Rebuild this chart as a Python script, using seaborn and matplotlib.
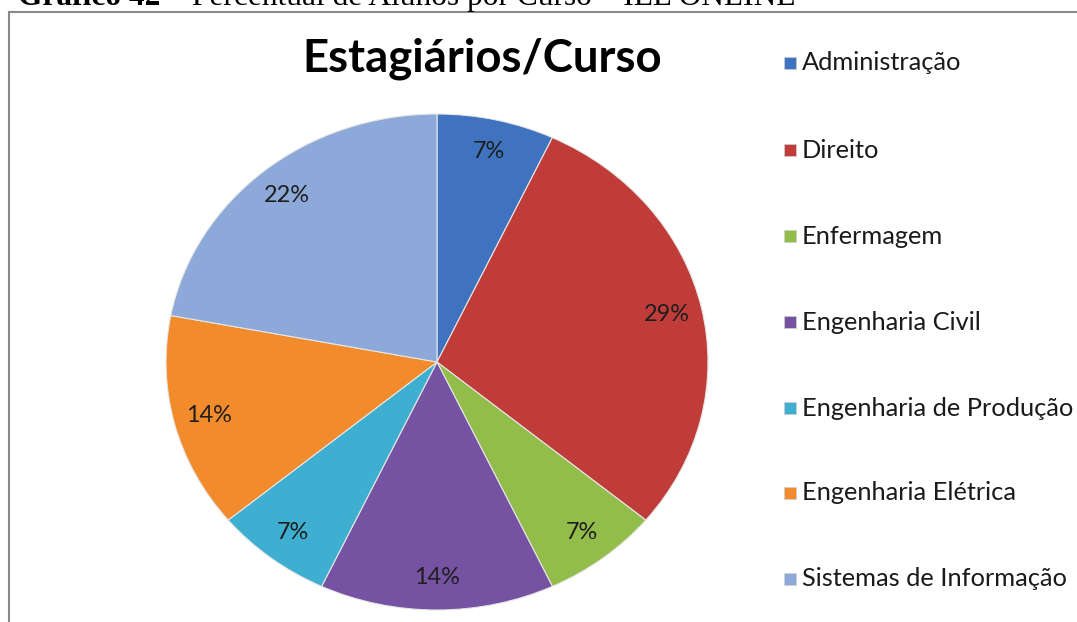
import matplotlib
matplotlib.use("Agg")
import matplotlib.pyplot as plt
import seaborn as sns
from matplotlib.patches import Rectangle

# ---- data ----
categorias = ["Administração", "Direito", "Enfermagem", "Engenharia Civil",
              "Engenharia de Produção", "Engenharia Elétrica", "Sistemas de Informação"]
percentuais = [7, 29, 7, 14, 7, 14, 22]
cores = ["#3F73C0", "#C03C39", "#93BD4A", "#7653A2", "#3EAFD0", "#F28B2C", "#8CA9D9"]
titulo = "Estagiários/Curso"
legenda_doc_negrito = "Gráfico 42 –"
legenda_doc = " Percentual de Alunos por Curso – IEL ONLINE"

sns.set_theme(style="white")
plt.rcParams["font.family"] = ["Lato", "DejaVu Sans"]

W, H = 1077, 622
fig = plt.figure(figsize=(W / 100, H / 100), dpi=100)
fig.patch.set_facecolor("white")
renderer = fig.canvas.get_renderer()


def fit(t, target_px):
    bb = t.get_window_extent(renderer=renderer)
    t.set_fontsize(t.get_fontsize() * target_px / bb.width)


# ---- pie (elliptical) ----
cx, cy, rx, ry = 437, 362, 271, 248
m = 1.1
ax = fig.add_axes([(cx - m * rx) / W, (H - cy - m * ry) / H, 2 * m * rx / W, 2 * m * ry / H])
wedges, texts, autotexts = ax.pie(
    percentuais, colors=cores, startangle=90, counterclock=False,
    autopct=lambda p: f"{p:.0f}%", pctdistance=0.87,
    wedgeprops=dict(edgecolor="#e6e6e6", linewidth=0.8),
    textprops=dict(fontsize=14, color="#1e1e1e"))
ax.set_aspect("auto")
ax.set_xlim(-m, m)
ax.set_ylim(-m, m)
ax.axis("off")
fig.canvas.draw()
k_pct = 46 / autotexts[1].get_window_extent(renderer=renderer).width
for t in autotexts:
    t.set_fontsize(14 * k_pct)

# ---- frame ----
fig.patches.append(Rectangle((9 / W, -0.1), 1.2, (H - 12) / H + 0.1, transform=fig.transFigure,
                             fill=False, edgecolor="#8a8a8a", linewidth=1.5))

# ---- document caption (cut off at top, as in the reference) ----
c1 = fig.text(18 / W, 1 - 5 / H, legenda_doc_negrito, fontsize=20, fontweight="bold",
              family="Liberation Serif", va="baseline", ha="left", color="black")
c2 = fig.text(0, 1 - 5 / H, legenda_doc, fontsize=20, family="Liberation Serif",
              va="baseline", ha="left", color="black")
fig.canvas.draw()
w1 = c1.get_window_extent(renderer=renderer).width
w2 = c2.get_window_extent(renderer=renderer).width
s = 777 / (w1 + w2)
c1.set_fontsize(20 * s)
c2.set_fontsize(20 * s)
fig.canvas.draw()
w1 = c1.get_window_extent(renderer=renderer).width
c2.set_x((18 + w1) / W)

# ---- title ----
tt = fig.text(482.5 / W, 1 - 72 / H, titulo, fontsize=30, fontweight="bold",
              ha="center", va="baseline", color="black")
fig.canvas.draw()
fit(tt, 359)

# ---- legend ----
ys = [63, 150, 236, 322, 408, 493, 579]
leg_texts = []
for nome, cor, y in zip(categorias, cores, ys):
    fig.patches.append(Rectangle((784 / W, 1 - (y + 6) / H), 12 / W, 12 / H,
                                 transform=fig.transFigure, facecolor=cor,
                                 edgecolor="#d0d0d0", linewidth=0.5))
    leg_texts.append(fig.text(802 / W, 1 - y / H, nome, fontsize=15, ha="left",
                              va="center", color="#1a1a1a"))
fig.canvas.draw()
k = 271 / leg_texts[4].get_window_extent(renderer=renderer).width
for t in leg_texts:
    t.set_fontsize(15 * k)

fig.savefig("out.png", dpi=100)
